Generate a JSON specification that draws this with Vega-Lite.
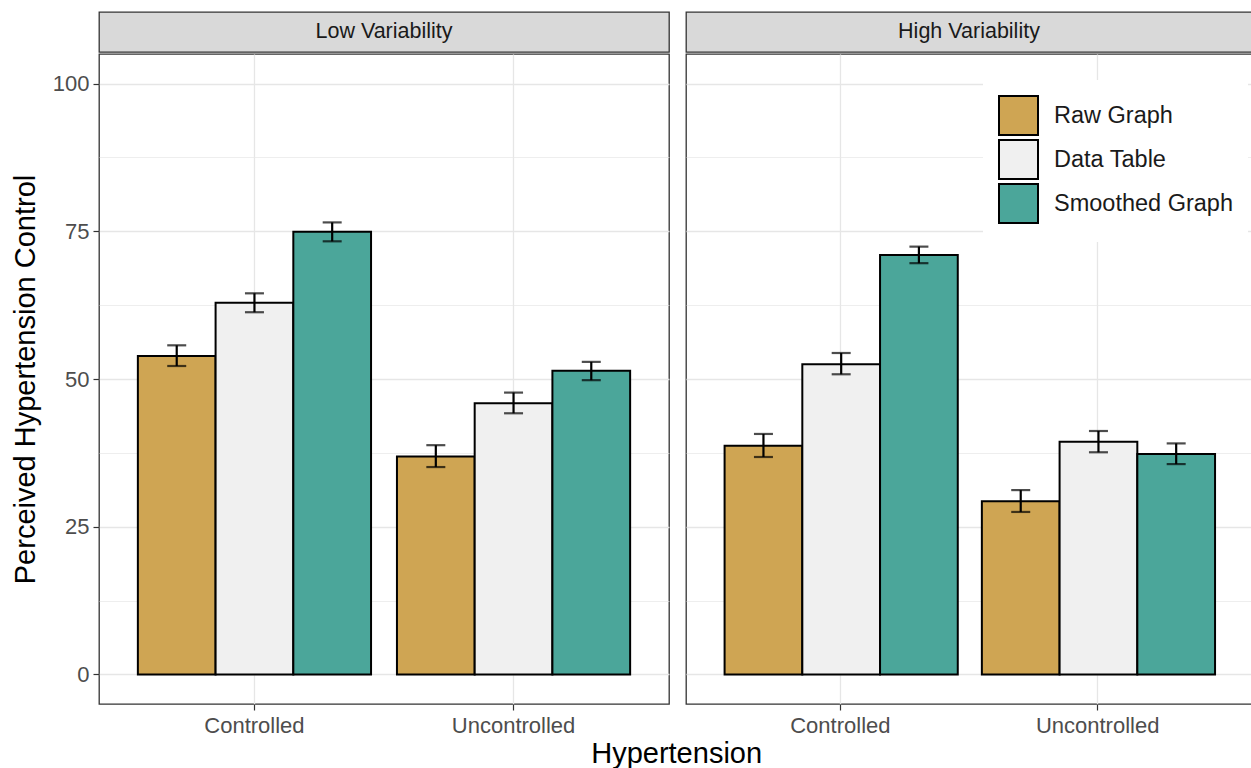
{
  "$schema": "https://vega.github.io/schema/vega-lite/v6.json",
  "background": "white",
  "padding": {"left": 10, "top": 11, "right": 0, "bottom": 0},
  "title": {"text": "Hypertension", "orient": "bottom", "anchor": "middle", "fontSize": 29, "fontWeight": "normal", "color": "#000000", "offset": 3, "dx": 45},
  "config": {
    "font": "Liberation Sans",
    "view": {"stroke": "#333333", "strokeWidth": 1.3},
    "axis": {
      "domain": false,
      "gridColor": "#E6E6E6",
      "gridWidth": 1.3,
      "tickColor": "#333333",
      "tickWidth": 1.2,
      "tickSize": 6,
      "labelColor": "#4D4D4D",
      "labelFontSize": 22,
      "titleFontSize": 29,
      "titleColor": "#000000",
      "titleFontWeight": "normal"
    }
  },
  "datasets": {
    "bars": [
      {"panel": "Low Variability", "Hypertension": "Controlled", "Display": "Raw Graph", "mean": 53.9, "lo": 52.2, "hi": 55.7},
      {"panel": "Low Variability", "Hypertension": "Controlled", "Display": "Data Table", "mean": 62.9, "lo": 61.3, "hi": 64.5},
      {"panel": "Low Variability", "Hypertension": "Controlled", "Display": "Smoothed Graph", "mean": 74.9, "lo": 73.3, "hi": 76.5},
      {"panel": "Low Variability", "Hypertension": "Uncontrolled", "Display": "Raw Graph", "mean": 36.9, "lo": 35.1, "hi": 38.8},
      {"panel": "Low Variability", "Hypertension": "Uncontrolled", "Display": "Data Table", "mean": 45.9, "lo": 44.2, "hi": 47.7},
      {"panel": "Low Variability", "Hypertension": "Uncontrolled", "Display": "Smoothed Graph", "mean": 51.4, "lo": 49.8, "hi": 52.9},
      {"panel": "High Variability", "Hypertension": "Controlled", "Display": "Raw Graph", "mean": 38.7, "lo": 36.8, "hi": 40.7},
      {"panel": "High Variability", "Hypertension": "Controlled", "Display": "Data Table", "mean": 52.5, "lo": 50.8, "hi": 54.4},
      {"panel": "High Variability", "Hypertension": "Controlled", "Display": "Smoothed Graph", "mean": 71.0, "lo": 69.6, "hi": 72.4},
      {"panel": "High Variability", "Hypertension": "Uncontrolled", "Display": "Raw Graph", "mean": 29.3, "lo": 27.5, "hi": 31.2},
      {"panel": "High Variability", "Hypertension": "Uncontrolled", "Display": "Data Table", "mean": 39.4, "lo": 37.6, "hi": 41.2},
      {"panel": "High Variability", "Hypertension": "Uncontrolled", "Display": "Smoothed Graph", "mean": 37.3, "lo": 35.6, "hi": 39.1}
    ]
  },
  "hconcat": [
    {
      "vconcat": [
        {
          "data": {"values": [{"label": "Low Variability"}]},
          "width": 570,
          "height": 40,
          "view": {"fill": "#D9D9D9", "stroke": "#333333", "strokeWidth": 1.3},
          "mark": {"type": "text", "fontSize": 21.5, "color": "#1A1A1A"},
          "encoding": {"text": {"field": "label", "type": "nominal"}}
        },
        {
          "width": 570,
          "height": 650,
          "data": {"name": "bars"},
          "transform": [{"filter": "datum.panel === 'Low Variability'"}],
          "resolve": {"axis": {"y": "independent"}},
          "layer": [
            {
              "mark": {"type": "bar", "stroke": "black", "strokeWidth": 2},
              "encoding": {
                "x": {"field": "Hypertension", "type": "nominal", "scale": {"type": "band", "paddingInner": 0.1, "paddingOuter": 0.15},
                  "axis": {"labelAngle": 0, "bandPosition": 0.5, "grid": true, "labelPadding": 5, "title": null}},
                "xOffset": {"field": "Display", "type": "nominal", "scale": {"domain": ["Raw Graph", "Data Table", "Smoothed Graph"], "paddingInner": 0, "paddingOuter": 0}},
                "y": {"field": "mean", "type": "quantitative", "scale": {"domain": [-5, 105], "nice": false, "zero": false},
                  "axis": {"orient": "left", "values": [0, 25, 50, 75, 100], "title": "Perceived Hypertension Control", "labelPadding": 4, "titlePadding": 12}},
                "color": {"field": "Display", "type": "nominal",
                  "scale": {"domain": ["Raw Graph", "Data Table", "Smoothed Graph"], "range": ["#CFA553", "#F0F0F0", "#4BA69A"]},
                  "legend": null}
              }
            },
            {
              "mark": {"type": "rule", "color": "black", "strokeWidth": 2.2},
              "encoding": {
                "x": {"field": "Hypertension", "type": "nominal"},
                "xOffset": {"field": "Display", "type": "nominal", "scale": {"domain": ["Raw Graph", "Data Table", "Smoothed Graph"]}},
                "y": {"field": "lo", "type": "quantitative",
                  "axis": {"orient": "left", "values": [12.5, 37.5, 62.5, 87.5], "grid": true, "gridWidth": 0.7, "labels": false, "ticks": false, "title": null}},
                "y2": {"field": "hi"}
              }
            },
            {
              "mark": {"type": "tick", "color": "black", "size": 19, "thickness": 2.2},
              "encoding": {
                "x": {"field": "Hypertension", "type": "nominal"},
                "xOffset": {"field": "Display", "type": "nominal", "scale": {"domain": ["Raw Graph", "Data Table", "Smoothed Graph"]}},
                "y": {"field": "lo", "type": "quantitative", "axis": null}
              }
            },
            {
              "mark": {"type": "tick", "color": "black", "size": 19, "thickness": 2.2},
              "encoding": {
                "x": {"field": "Hypertension", "type": "nominal"},
                "xOffset": {"field": "Display", "type": "nominal", "scale": {"domain": ["Raw Graph", "Data Table", "Smoothed Graph"]}},
                "y": {"field": "hi", "type": "quantitative", "axis": null}
              }
            }
          ]
        }
      ],
      "spacing": 0
    },
    {
      "vconcat": [
        {
          "data": {"values": [{"label": "High Variability"}]},
          "width": 566,
          "height": 40,
          "view": {"fill": "#D9D9D9", "stroke": "#333333", "strokeWidth": 1.3},
          "mark": {"type": "text", "fontSize": 21.5, "color": "#1A1A1A"},
          "encoding": {"text": {"field": "label", "type": "nominal"}}
        },
        {
          "width": 566,
          "height": 650,
          "data": {"name": "bars"},
          "transform": [{"filter": "datum.panel === 'High Variability'"}],
          "resolve": {"axis": {"y": "independent"}},
          "layer": [
            {
              "mark": {"type": "bar", "stroke": "black", "strokeWidth": 2},
              "encoding": {
                "x": {"field": "Hypertension", "type": "nominal", "scale": {"type": "band", "paddingInner": 0.1, "paddingOuter": 0.15},
                  "axis": {"labelAngle": 0, "bandPosition": 0.5, "grid": true, "labelPadding": 5, "title": null}},
                "xOffset": {"field": "Display", "type": "nominal", "scale": {"domain": ["Raw Graph", "Data Table", "Smoothed Graph"], "paddingInner": 0, "paddingOuter": 0}},
                "y": {"field": "mean", "type": "quantitative", "scale": {"domain": [-5, 105], "nice": false, "zero": false},
                  "axis": {"orient": "left", "values": [0, 25, 50, 75, 100], "labels": false, "ticks": false, "title": null}},
                "color": {"field": "Display", "type": "nominal",
                  "scale": {"domain": ["Raw Graph", "Data Table", "Smoothed Graph"], "range": ["#CFA553", "#F0F0F0", "#4BA69A"]},
                  "legend": {"orient": "none", "legendX": 297, "legendY": 68, "title": null, "fillColor": "white", "padding": 15,
                    "symbolType": "square", "symbolSize": 1521, "symbolStrokeColor": "black", "symbolStrokeWidth": 2, "symbolOpacity": 1,
                    "labelFontSize": 23.5, "labelLimit": 400, "labelColor": "#1A1A1A", "labelOffset": 15, "rowPadding": -9}}
              }
            },
            {
              "mark": {"type": "rule", "color": "black", "strokeWidth": 2.2},
              "encoding": {
                "x": {"field": "Hypertension", "type": "nominal"},
                "xOffset": {"field": "Display", "type": "nominal", "scale": {"domain": ["Raw Graph", "Data Table", "Smoothed Graph"]}},
                "y": {"field": "lo", "type": "quantitative",
                  "axis": {"orient": "left", "values": [12.5, 37.5, 62.5, 87.5], "grid": true, "gridWidth": 0.7, "labels": false, "ticks": false, "title": null}},
                "y2": {"field": "hi"}
              }
            },
            {
              "mark": {"type": "tick", "color": "black", "size": 19, "thickness": 2.2},
              "encoding": {
                "x": {"field": "Hypertension", "type": "nominal"},
                "xOffset": {"field": "Display", "type": "nominal", "scale": {"domain": ["Raw Graph", "Data Table", "Smoothed Graph"]}},
                "y": {"field": "lo", "type": "quantitative", "axis": null}
              }
            },
            {
              "mark": {"type": "tick", "color": "black", "size": 19, "thickness": 2.2},
              "encoding": {
                "x": {"field": "Hypertension", "type": "nominal"},
                "xOffset": {"field": "Display", "type": "nominal", "scale": {"domain": ["Raw Graph", "Data Table", "Smoothed Graph"]}},
                "y": {"field": "hi", "type": "quantitative", "axis": null}
              }
            }
          ]
        }
      ],
      "spacing": 0
    }
  ],
  "spacing": 15,
  "resolve": {"scale": {"color": "independent"}, "legend": {"color": "independent"}}
}
